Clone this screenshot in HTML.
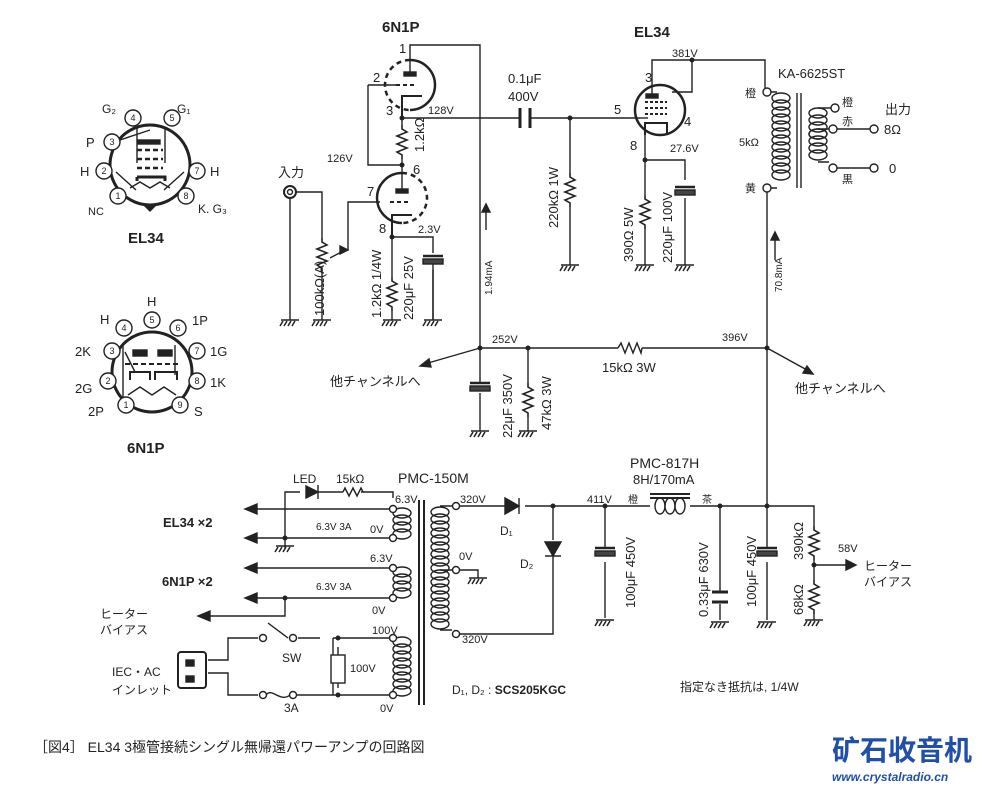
<!DOCTYPE html>
<html><head><meta charset="utf-8"><style>
html,body{margin:0;padding:0;background:#fff;}
svg{display:block;}
text{font-family:"Liberation Sans","Noto Sans CJK JP",sans-serif;fill:#222;}
.s{font-size:11px;fill:#555}
.m{font-size:13px}
.b{font-size:15px;font-weight:bold}
</style></head><body>
<svg width="1000" height="790" viewBox="0 0 1000 790" xmlns="http://www.w3.org/2000/svg">
<defs>
<g id="gnd" stroke="#222" stroke-width="1.5" fill="none"><line x1="-9" y1="0" x2="9" y2="0"/><line x1="-7" y1="1" x2="-10" y2="6"/><line x1="-3" y1="1" x2="-6" y2="6"/><line x1="1" y1="1" x2="-2" y2="6"/><line x1="5" y1="1" x2="2" y2="6"/></g>
<path id="rv" d="M0,0 L0,4 L5,7 L-5,11 L5,15 L-5,19 L5,23 L-5,27 L0,30 L0,34" stroke="#222" stroke-width="1.6" fill="none"/>
<g id="ecap" stroke="#222" fill="none"><line x1="-10" y1="0" x2="10" y2="0" stroke-width="2.5"/><rect x="-10" y="3" width="20" height="5" fill="#444"/></g>
<g id="loop" fill="none" stroke="#222" stroke-width="1.4"><ellipse cx="0" cy="0" rx="9" ry="5"/></g>
<g id="c4"><use href="#loop" y="0"/><use href="#loop" y="7"/><use href="#loop" y="14"/><use href="#loop" y="21"/></g>
</defs>
<g stroke="#222" stroke-width="1.4" fill="none">
<!-- EL34 base -->
<circle cx="150" cy="165" r="40" stroke-width="3"/>
<path d="M144,205 l6,6 l6,-6z" fill="#222"/>
<rect x="138" y="140" width="22" height="4" fill="#222"/>
<path d="M137,150h26M137,159h26M137,168h26" stroke-dasharray="5,3" stroke-width="2.5"/>
<path d="M137,177h28v4M137,177v4" stroke-width="3"/>
<path d="M130,188l10,-6 l10,6 l10,-6 l10,6"/>
<path d="M137,128v35M165,128v35M120,140l30,-10M116,172l20,18M184,172l-20,18"/>
<g fill="#fff"><circle cx="133" cy="118" r="8"/><circle cx="172" cy="118" r="8"/><circle cx="112" cy="142" r="8"/><circle cx="104" cy="171" r="8"/><circle cx="118" cy="196" r="8"/><circle cx="197" cy="171" r="8"/><circle cx="186" cy="196" r="8"/></g>
<!-- 6N1P base -->
<circle cx="152" cy="372" r="40" stroke-width="3"/>
<rect x="133" y="350" width="14" height="6" fill="#222"/><rect x="158" y="350" width="14" height="6" fill="#222"/>
<path d="M125,364h55" stroke-dasharray="5,3" stroke-width="2"/>
<path d="M130,380v-8h20v8M155,380v-8h22v8" stroke-width="2"/>
<path d="M128,395l12,-8 l12,8 l12,-8 l12,8"/>
<path d="M123,345v55M175,345v30M125,352l10,20"/>
<g fill="#fff"><circle cx="152" cy="320" r="8"/><circle cx="124" cy="328" r="8"/><circle cx="178" cy="328" r="8"/><circle cx="112" cy="351" r="8"/><circle cx="197" cy="351" r="8"/><circle cx="108" cy="381" r="8"/><circle cx="197" cy="381" r="8"/><circle cx="126" cy="405" r="8"/><circle cx="180" cy="405" r="8"/></g>

<!-- 6N1P upper triode -->
<path d="M410,60 a25,25 0 0 1 0,50" stroke-width="2.5"/>
<path d="M410,60 a25,25 0 0 0 0,50" stroke-dasharray="5,4" stroke-width="2.5"/>
<rect x="404" y="72" width="12" height="4" fill="#222"/>
<path d="M396,85h20" stroke-dasharray="4,3" stroke-width="2"/>
<path d="M402,118v-22h20" stroke-width="2"/>
<path d="M410,72v-27h70v303"/>
<path d="M368,85h30M368,85v80h34"/>
<path d="M402,118h118M530,118h110"/>
<path d="M520,108v20M530,108v20" stroke-width="3"/>
<use href="#rv" x="402" y="125"/><path d="M402,118v7M402,159v6"/>
<!-- lower triode -->
<path d="M402,173 a25,25 0 0 0 0,50" stroke-width="2.5"/>
<path d="M402,173 a25,25 0 0 1 0,50" stroke-dasharray="5,4" stroke-width="2.5"/>
<rect x="396" y="189" width="12" height="4" fill="#222"/>
<path d="M390,202h20" stroke-dasharray="4,3" stroke-width="2"/>
<path d="M392,237v-22h20" stroke-width="2"/>
<path d="M402,165v24"/>
<path d="M380,202h-32v48"/>
<path d="M392,237h41v16M433,270v50M392,237v40"/>
<use href="#rv" x="392" y="277"/><path d="M392,311v9"/>
<use href="#ecap" x="433" y="256"/><path d="M433,264v56"/>
<!-- input -->
<circle cx="290" cy="192" r="6" stroke-width="2"/><circle cx="290" cy="192" r="2.5"/>
<path d="M296,192h26v46M322,272v48M290,198v122"/>
<use href="#rv" x="322" y="238"/>
<path d="M330,258l15,-8" /><path d="M348,250l-8,-4v8z" fill="#222"/>
<!-- 220k -->
<path d="M570,118v55M570,207v58"/><use href="#rv" x="570" y="173"/>
<!-- EL34 -->
<circle cx="660" cy="110" r="25" stroke-width="2.5"/>
<rect x="646" y="94" width="12" height="4" fill="#222"/>
<path d="M645,102h22M645,108h22M645,114h22" stroke-dasharray="3,2" stroke-width="2"/>
<path d="M645,135v-12h22v12" stroke-width="2"/>
<path d="M652,94v-34h113v28M692,60v32h-20"/>
<path d="M640,118h8"/>
<path d="M645,135v25h40v20M685,198v67M645,160v35M645,229v36"/>
<use href="#rv" x="645" y="195"/><use href="#ecap" x="685" y="187"/>
<!-- OPT -->
<path d="M771,92h6M771,188h6"/>
<use href="#c4" x="781" y="98"/><use href="#c4" x="781" y="126"/><use href="#c4" x="781" y="154"/>
<path d="M797,93v95M801,93v95"/>
<use href="#c4" x="818" y="113"/><use href="#c4" x="818" y="134"/>
<path d="M818,108h13M818,129h11M818,162h11M833,129h37M833,168h37"/>
<g fill="#fff"><circle cx="767" cy="92" r="4"/><circle cx="767" cy="188" r="4"/><circle cx="835" cy="108" r="4"/><circle cx="833" cy="129" r="4"/><circle cx="833" cy="168" r="4"/><circle cx="874" cy="129" r="4"/><circle cx="874" cy="168" r="4"/></g>
<path d="M767,192v313"/>
<path d="M775,260v-22"/><path d="M775,232l-4,8h8z" fill="#222"/>
<path d="M486,230v-20"/><path d="M486,204l-4,8h8z" fill="#222"/>
<!-- B+ line -->
<path d="M480,348h138M642,348h125"/>
<path d="M618,348l3,-5 4,10 4,-10 4,10 4,-10 4,10 1,-5" />
<path d="M480,348l-52,15"/><path d="M420,366l9,-7 2,8z" fill="#222"/>
<path d="M767,348l40,22"/><path d="M813,374l-10,-1 4,-7z" fill="#222"/>
<path d="M480,348v35M480,393v38"/><use href="#ecap" x="480" y="383"/>
<path d="M528,348v35M528,417v14"/><use href="#rv" x="528" y="383"/>
<!-- power transformer -->
<path d="M419,500v205M424,500v205" stroke-width="2"/>
<use href="#c4" x="402" y="513"/>
<use href="#c4" x="402" y="572"/>
<use href="#c4" x="402" y="642"/><use href="#c4" x="402" y="670"/>
<use href="#c4" x="440" y="512"/><use href="#c4" x="440" y="540"/><use href="#c4" x="440" y="568"/><use href="#c4" x="440" y="596"/><use href="#loop" x="440" y="624"/>
<path d="M440,506h12M440,570h12M440,630h12"/>
<!-- heater outputs -->
<path d="M393,509h-143M393,538h-143M393,568h-143M393,598h-143"/>
<path d="M245,509l12,-5v10zM245,538l12,-5v10zM245,568l12,-5v10zM245,598l12,-5v10z" fill="#222"/>
<path d="M393,498v-6h-32M343,492h-25M318,485v14M300,492h-15v46v10"/>
<path d="M318,492l-12,-6v12z" fill="#222"/>
<path d="M343,492l2,-4 4,8 4,-8 4,8 4,-8 2,4"/>
<use href="#gnd" x="285" y="546"/>
<path d="M285,598v18h-80"/><path d="M198,616l12,-5v10z" fill="#222"/>
<!-- primary -->
<path d="M393,638h-60M393,695h-60M333,638v50M333,695v-10"/>
<rect x="331" y="655" width="14" height="28" fill="#fff"/>
<path d="M338,655v-8M338,683v5"/>
<path d="M320,638h-22M288,638l-20,-15M258,638h-30v22h-20M258,695h-30v-22h-20"/>
<circle cx="293" cy="638" r="3.5"/><circle cx="263" cy="638" r="3.5"/>
<circle cx="293" cy="695" r="3.5"/><circle cx="263" cy="695" r="3.5"/>
<path d="M266,695c6,-8 14,8 24,0"/>
<path d="M296,695h37"/>
<rect x="178" y="652" width="28" height="36" rx="3" stroke-width="2"/>
<rect x="186" y="660" width="8" height="6" fill="#222"/><rect x="186" y="676" width="8" height="6" fill="#222"/>
<!-- secondary HV -->
<path d="M460,506h45M525,506h125M460,634h93v-80M553,540v-34"/>
<path d="M505,498v16M505,498l14,8l-14,8z" fill="#222"/>
<path d="M519,498v16"/>
<path d="M545,556h16M553,556l-8,-14h16z" fill="#222"/>
<path d="M460,570h18v8"/><use href="#gnd" x="478" y="578"/>
<path d="M605,506v42M605,562v56"/><use href="#ecap" x="605" y="548"/><use href="#gnd" x="605" y="620"/>
<path d="M690,506h78"/>
<ellipse cx="660" cy="506" rx="5" ry="8"/><ellipse cx="670" cy="506" rx="5" ry="8"/><ellipse cx="680" cy="506" rx="5" ry="8"/>
<path d="M650,494h40M650,498h40" stroke-width="2"/>
<path d="M720,506v86M720,604v16"/>
<path d="M712,592h16M712,602h16" stroke-width="3"/>
<use href="#gnd" x="720" y="622"/>
<path d="M767,506v42M767,562v58"/><use href="#ecap" x="767" y="548"/><use href="#gnd" x="767" y="622"/>
<path d="M767,506h47v20M814,560v20M814,614v6"/>
<use href="#rv" x="814" y="526"/><use href="#rv" x="814" y="580"/>
<path d="M814,565h35"/><path d="M856,565l-10,-5v10z" fill="#222"/>
<use href="#gnd" x="814" y="620"/>
<g fill="#fff"><circle cx="393" cy="509" r="3.5"/><circle cx="393" cy="538" r="3.5"/><circle cx="393" cy="568" r="3.5"/><circle cx="393" cy="598" r="3.5"/><circle cx="393" cy="638" r="3.5"/><circle cx="393" cy="695" r="3.5"/><circle cx="456" cy="506" r="3.5"/><circle cx="456" cy="570" r="3.5"/><circle cx="456" cy="634" r="3.5"/></g>
</g>
<!-- grounds -->
<use href="#gnd" x="290" y="320"/><use href="#gnd" x="322" y="320"/><use href="#gnd" x="392" y="320"/><use href="#gnd" x="433" y="320"/>
<use href="#gnd" x="570" y="265"/><use href="#gnd" x="645" y="265"/><use href="#gnd" x="685" y="265"/><use href="#gnd" x="480" y="431"/><use href="#gnd" x="528" y="431"/>
<!-- dots -->
<g fill="#222"><circle cx="402" cy="118" r="2.5"/><circle cx="402" cy="165" r="2.5"/><circle cx="392" cy="237" r="2.5"/><circle cx="570" cy="118" r="2.5"/><circle cx="692" cy="60" r="2.5"/><circle cx="645" cy="160" r="2.5"/><circle cx="480" cy="348" r="2.5"/><circle cx="528" cy="348" r="2.5"/><circle cx="767" cy="348" r="2.5"/><circle cx="553" cy="506" r="2.5"/><circle cx="605" cy="506" r="2.5"/><circle cx="720" cy="506" r="2.5"/><circle cx="767" cy="506" r="2.5"/><circle cx="814" cy="565" r="2.5"/><circle cx="285" cy="538" r="2.5"/><circle cx="285" cy="598" r="2.5"/><circle cx="338" cy="638" r="2.5"/><circle cx="338" cy="695" r="2.5"/></g>

<!-- text -->
<g class="m">
<text x="102" y="113" font-size="12">G₂</text><text x="177" y="113" font-size="12">G₁</text><text x="86" y="147">P</text><text x="80" y="176">H</text><text x="210" y="176">H</text><text x="88" y="215" font-size="11">NC</text><text x="198" y="213" font-size="12">K. G₃</text>
<text x="147" y="306">H</text><text x="100" y="324">H</text><text x="192" y="325">1P</text><text x="75" y="356">2K</text><text x="210" y="356">1G</text><text x="75" y="393">2G</text><text x="210" y="387">1K</text><text x="88" y="416">2P</text><text x="194" y="416">S</text>
</g>
<g font-size="9" text-anchor="middle"><text x="133" y="121">4</text><text x="172" y="121">5</text><text x="112" y="145">3</text><text x="104" y="174">2</text><text x="118" y="199">1</text><text x="197" y="174">7</text><text x="186" y="199">8</text>
<text x="152" y="323">5</text><text x="124" y="331">4</text><text x="178" y="331">6</text><text x="112" y="354">3</text><text x="197" y="354">7</text><text x="108" y="384">2</text><text x="197" y="384">8</text><text x="126" y="408">1</text><text x="180" y="408">9</text></g>
<text x="128" y="243" class="b" font-size="17">EL34</text>
<text x="127" y="453" class="b" font-size="17">6N1P</text>
<text x="382" y="32" class="b" font-size="14">6N1P</text>
<text x="634" y="37" class="b" font-size="14">EL34</text>
<g class="m" font-size="11">
<text x="399" y="53">1</text><text x="373" y="82">2</text><text x="386" y="115">3</text><text x="413" y="174">6</text><text x="367" y="196">7</text><text x="379" y="233">8</text>
<text x="645" y="82">3</text><text x="614" y="114">5</text><text x="684" y="126">4</text><text x="630" y="150">8</text></g>
<g class="s"><text x="428" y="114">128V</text><text x="327" y="162">126V</text><text x="418" y="233">2.3V</text><text x="672" y="57">381V</text><text x="670" y="152">27.6V</text><text x="492" y="343">252V</text><text x="722" y="341">396V</text><text x="587" y="503">411V</text><text x="838" y="552">58V</text></g>
<text x="508" y="83" class="m">0.1μF</text><text x="508" y="101" class="m">400V</text>
<text x="278" y="177" class="m">入力</text>
<text x="778" y="78" class="m">KA-6625ST</text>
<text x="745" y="97" font-size="11">橙</text><text x="739" y="146" font-size="11">5kΩ</text><text x="745" y="192" font-size="11">黄</text>
<text x="842" y="106" font-size="11">橙</text><text x="842" y="125" font-size="11">赤</text><text x="842" y="183" font-size="11">黒</text>
<text x="885" y="114" class="m">出力</text><text x="884" y="134" class="m">8Ω</text><text x="889" y="173" class="m">0</text>
<text x="330" y="386" class="m">他チャンネルへ</text><text x="795" y="393" class="m">他チャンネルへ</text>
<text x="602" y="372" class="m">15kΩ 3W</text>
<g class="m" font-size="12">
<text transform="translate(324,316) rotate(-90)">100kΩ(A)</text>
<text transform="translate(381,318) rotate(-90)">1.2kΩ 1/4W</text>
<text transform="translate(413,320) rotate(-90)">220μF 25V</text>
<text transform="translate(424,152) rotate(-90)">1.2kΩ</text>
<text transform="translate(492,295) rotate(-90)" font-size="10">1.94mA</text>
<text transform="translate(558,228) rotate(-90)">220kΩ 1W</text>
<text transform="translate(633,262) rotate(-90)">390Ω 5W</text>
<text transform="translate(672,263) rotate(-90)">220μF 100V</text>
<text transform="translate(782,292) rotate(-90)" font-size="10">70.8mA</text>
<text transform="translate(512,438) rotate(-90)">22μF 350V</text>
<text transform="translate(551,430) rotate(-90)">47kΩ 3W</text>
<text transform="translate(635,608) rotate(-90)">100μF 450V</text>
<text transform="translate(708,617) rotate(-90)">0.33μF 630V</text>
<text transform="translate(756,607) rotate(-90)">100μF 450V</text>
<text transform="translate(803,560) rotate(-90)">390kΩ</text>
<text transform="translate(803,615) rotate(-90)">68kΩ</text>
</g>
<g font-size="12"><text x="293" y="483">LED</text><text x="336" y="483">15kΩ</text><text x="398" y="483" font-size="14">PMC-150M</text>
<text x="395" y="503" font-size="11">6.3V</text><text x="316" y="530" font-size="10">6.3V 3A</text><text x="370" y="533" font-size="11">0V</text>
<text x="370" y="562" font-size="11">6.3V</text><text x="316" y="590" font-size="10">6.3V 3A</text><text x="372" y="614" font-size="11">0V</text>
<text x="372" y="634" font-size="11">100V</text><text x="380" y="712" font-size="11">0V</text>
<text x="282" y="662">SW</text><text x="350" y="672" font-size="11">100V</text><text x="284" y="712">3A</text>
<text x="460" y="503" font-size="11">320V</text><text x="459" y="560" font-size="11">0V</text><text x="462" y="643" font-size="11">320V</text>
<text x="500" y="535">D₁</text><text x="520" y="568">D₂</text>
<text x="630" y="468" font-size="14">PMC-817H</text><text x="633" y="484" font-size="13">8H/170mA</text>
<text x="628" y="503" font-size="10">橙</text><text x="702" y="503" font-size="10">茶</text>
<text x="864" y="570">ヒーター</text><text x="864" y="586">バイアス</text>
<text x="100" y="618">ヒーター</text><text x="100" y="634">バイアス</text>
<text x="112" y="676">IEC・AC</text><text x="112" y="694">インレット</text>
<text x="163" y="527" font-weight="bold" font-size="13">EL34 ×2</text>
<text x="162" y="586" font-weight="bold" font-size="13">6N1P ×2</text>
<text x="452" y="694">D₁, D₂ : <tspan font-weight="bold">SCS205KGC</tspan></text>
<text x="680" y="691">指定なき抵抗は, 1/4W</text>
<text x="34" y="752" font-size="14">［図4］ EL34 3極管接続シングル無帰還パワーアンプの回路図</text>
</g>
<text x="832" y="760" font-size="28" font-weight="bold" style="fill:#1f4fa8">矿石收音机</text>
<text x="832" y="781" font-size="12" font-weight="bold" font-style="italic" style="fill:#1f4fa8">www.crystalradio.cn</text>
</svg>
</body></html>
